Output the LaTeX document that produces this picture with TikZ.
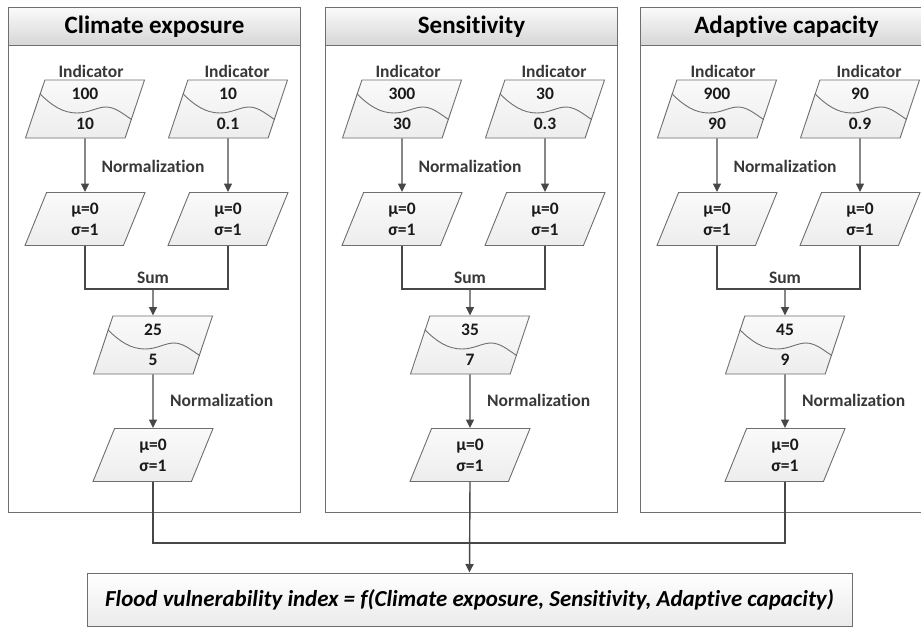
\documentclass[tikz,border=0pt]{standalone}
\usepackage{fontspec}
\setmainfont{Carlito}[Ligatures=NoCommon]
\usetikzlibrary{shapes.geometric,arrows.meta,calc}
\definecolor{linegray}{HTML}{474747}
\definecolor{framegray}{HTML}{6E6E6E}
\definecolor{labelgray}{HTML}{383838}
\definecolor{inkblack}{HTML}{1A1A1A}
\tikzset{
  panelframe/.style={draw=framegray, line width=1pt, fill=white, rectangle,
    minimum width=292pt, minimum height=505pt, inner sep=0pt, anchor=north west},
  panelhead/.style={draw=framegray, line width=1pt, rectangle,
    top color=gray!4, bottom color=gray!32,
    minimum width=292pt, minimum height=38pt, inner sep=0pt, anchor=north west,
    font=\fontsize{25}{29}\selectfont\bfseries, text=black},
  databox/.style={trapezium, trapezium left angle=65, trapezium right angle=115,
    trapezium stretches body=true, draw=framegray, line width=0.9pt,
    top color=gray!4, bottom color=gray!14, inner sep=0pt,
    minimum width=119pt, minimum height=58pt, align=center, text=inkblack,
    font=\fontsize{17.5}{30}\selectfont\bfseries},
  normbox/.style={trapezium, trapezium left angle=56.5, trapezium right angle=123.5,
    trapezium stretches body=true, draw=framegray, line width=0.9pt,
    top color=gray!4, bottom color=gray!14, inner sep=0pt,
    minimum width=120pt, minimum height=53pt, align=center, text=inkblack,
    font=\fontsize{17.5}{21}\selectfont\bfseries},
  steplabel/.style={text=labelgray, font=\fontsize{17.5}{20}\selectfont\bfseries, inner sep=0pt},
  wave/.style={draw=framegray, line width=0.9pt},
  link/.style={draw=linegray, line width=1.4pt},
  flow/.style={link, -{Triangle[length=8.5pt,width=8pt]}},
  result/.style={draw=framegray, line width=1pt, rectangle,
    top color=white, bottom color=gray!16,
    minimum width=765pt, minimum height=53pt, inner sep=0pt,
    font=\fontsize{22.9}{27}\selectfont\bfseries\itshape, text=black},
}
% wavy divider inside an indicator box, from its left side to its right side
\newcommand{\wavein}[1]{%
  \draw[wave] ($(#1.top left corner)!0.24!(#1.bottom left corner)$)
    .. controls +(12,12) and +(-14,0) .. ([shift={(-8,4)}]#1.center)
    .. controls +(12,0) and +(-9,0) .. ([shift={(21,-2)}]#1.center)
    .. controls +(9,0) and +(-9,-6) .. ($(#1.top right corner)!0.68!(#1.bottom right corner)$);}
% one component panel: #1 prefix, #2 centre x, #3 title,
% #4/#5 first indicator, #6/#7 second indicator, #8/#9 summed value
\newcommand{\flowpanel}[9]{%
  \node[panelframe] (#1frame) at (#2-145,7) {};
  \node[panelhead] (#1head) at (#2-145,7) {#3};
  \node[steplabel] (#1la) at (#2-62,71) {Indicator};
  \node[steplabel] (#1lb) at (#2+84,71) {Indicator};
  \node[databox] (#1a) at (#2-68,109) {#4\\#5};
  \node[databox] (#1b) at (#2+75,109) {#6\\#7};
  \wavein{#1a}
  \wavein{#1b}
  \node[steplabel] (#1norm) at (#2,166) {Normalization};
  \node[normbox] (#1an) at (#2-68,219) {μ=0\\σ=1};
  \node[normbox] (#1bn) at (#2+75,219) {μ=0\\σ=1};
  \coordinate (#1join) at (#2,289);
  \node[steplabel] (#1sumlabel) at (#2,278) {Sum};
  \node[databox] (#1s) at (#2,345) {#8\\#9};
  \wavein{#1s}
  \node[steplabel, anchor=west] (#1norm2) at (#2+17,400) {Normalization};
  \node[normbox] (#1sn) at (#2,455) {μ=0\\σ=1};
  \draw[flow] (#1a.south) -- (#1an.north);
  \draw[flow] (#1b.south) -- (#1bn.north);
  \draw[link] (#1an.south) |- (#1join) -| (#1bn.south);
  \draw[flow] (#1join) -- (#1s.north);
  \draw[flow] (#1s.south) -- (#1sn.north);
}
\begin{document}
\begin{tikzpicture}[x=1pt,y=-1pt]
  \useasboundingbox (0,0) rectangle (921,627);
  \clip (0,0) rectangle (921,627);
  \flowpanel{ce}{153}{Climate exposure}{100}{10}{10}{0.1}{25}{5}
  \flowpanel{se}{470}{Sensitivity}{300}{30}{30}{0.3}{35}{7}
  \flowpanel{ac}{785}{Adaptive capacity}{900}{90}{90}{0.9}{45}{9}
  \coordinate (merge) at (470,543);
  \node[result] (index) at (469.5,599.5)
    {Flood vulnerability index = f(Climate exposure, Sensitivity, Adaptive capacity)};
  \draw[link] (cesn.south) |- (merge);
  \draw[link] (acsn.south) |- (merge);
  \draw[flow] (sesn.south) -- (index.north);
\end{tikzpicture}
\end{document}
